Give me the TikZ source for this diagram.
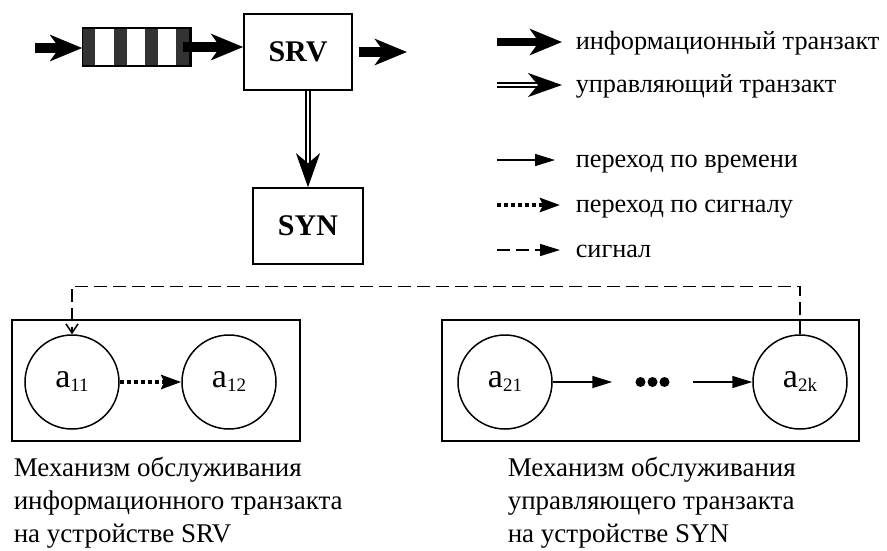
\documentclass[tikz,border=0pt]{standalone}
\usepackage{fontspec}
\setmainfont{Liberation Serif}
\usetikzlibrary{arrows.meta,calc,positioning}
\tikzset{
  every picture/.style={line width=1.5pt},
  device/.style={draw, line width=1.5pt, minimum width=108pt, minimum height=76pt,
    inner sep=0pt, font=\fontsize{30}{30}\selectfont\bfseries},
  frame/.style={draw, line width=1.5pt, inner sep=0pt},
  state/.style={draw, circle, line width=1.5pt, minimum size=94pt, inner sep=0pt},
  legend/.style={anchor=base west, inner sep=0pt, font=\fontsize{26.3}{26.3}\selectfont},
  caption/.style={anchor=base west, inner sep=0pt, align=left,
    font=\fontsize{27}{33}\selectfont},
  info/.style={line width=10pt, -{Stealth[length=32pt,width=26pt,inset=9pt]}},
  ctrl/.style={double, double distance=2.5pt, line width=2pt,
    -{Stealth[length=34pt,width=24pt,inset=10pt]}},
  timed/.style={line width=1.5pt, -{Triangle[length=20pt,width=12pt]}},
  bysignal/.style={line width=4pt, dash pattern=on 4pt off 3pt,
    -{Stealth[length=20pt,width=14pt,inset=3pt]}},
  signal/.style={line width=1.5pt, dash pattern=on 13pt off 6pt},
}
\newcommand{\lab}[2]{\fontsize{34}{34}\selectfont #1\raisebox{-4pt}{\fontsize{19}{19}\selectfont #2}}

\begin{document}
\begin{tikzpicture}[x=1pt, y=-1pt]
\useasboundingbox (0,0) rectangle (887,550);
% Queue and the two devices
\node[draw, line width=1.5pt, minimum width=107pt, minimum height=37pt, inner sep=0pt]
  (queue) at (136.5,47) {};
\foreach \i in {0,1,2,3}{
  \fill[black!80] ($(queue.north west)+(31.33*\i,0)$) rectangle ++(13,37);
}
\draw[line width=1.5pt] (queue.north west) rectangle (queue.south east);
\node[device] (srv) at (298,52) {SRV};
\node[device, minimum width=110pt] (syn) at (308,226) {SYN};
\coordinate (in) at (35,48);
\coordinate (out) at (407,52);
\draw[info] (in) -- (in -| queue.west);
\draw[info] ($(queue.east)+(-8,0)$) -- (queue.east -| srv.west);
\draw[info] ($(srv.east)+(6,0)$) -- (out);
\draw[ctrl] (srv.south -| syn.north) -- (syn.north);
% Legend
\node[legend] (l1) at (575,49) {информационный транзакт};
\node[legend] (l2) at (575,92) {управляющий транзакт};
\node[legend] (l3) at (575,167) {переход по времени};
\node[legend] (l4) at (575,212) {переход по сигналу};
\node[legend] (l5) at (575,257) {сигнал};
\draw[info, line width=8pt] ([shift={(-78,-7)}]l1.base west) -- ([shift={(-13,-7)}]l1.base west);
\draw[ctrl, double distance=2pt, line width=1.8pt] ([shift={(-78,-7)}]l2.base west) -- ([shift={(-13,-7)}]l2.base west);
\draw[timed] ([shift={(-78,-7)}]l3.base west) -- ([shift={(-20,-7)}]l3.base west);
\draw[bysignal] ([shift={(-78,-7)}]l4.base west) -- ([shift={(-15,-7)}]l4.base west);
\draw[signal, -{Triangle[length=20pt,width=12pt]}] ([shift={(-78,-7)}]l5.base west) -- ([shift={(-15,-7)}]l5.base west);
% Service mechanisms
\node[frame, minimum width=288pt, minimum height=121pt] (mech1) at (156,380.5) {};
\node[frame, minimum width=417pt, minimum height=121pt] (mech2) at (650.5,380.5) {};
\node[state] (a11) at (72,382) {\lab{a}{11}};
\node[state] (a12) at (229,382) {\lab{a}{12}};
\node[state] (a21) at (505,382) {\lab{a}{21}};
\node[state] (a2k) at (800,382) {\lab{a}{2k}};
\node[minimum width=79pt, inner sep=0pt] (dots) at (652.5,382) {};
\foreach \dx in {-12,0,12}{
  \fill ([xshift=\dx pt]dots.center) circle (5pt);
}
\draw[bysignal] (a11) -- (a12);
\draw[timed] (a21) -- (dots.west);
\draw[timed] (dots.east) -- (a2k);
\draw[signal, -{Straight Barb[length=9pt,width=12pt]}] (a2k.north) -- ++(0,-48) -| (a11.north);
% Captions
\node[caption] (c1) at (13,542) {Механизм обслуживания\\информационного транзакта\\на устройстве SRV};
\node[caption] (c2) at (507,542) {Механизм обслуживания\\управляющего транзакта\\на устройстве SYN};
\end{tikzpicture}
\end{document}
